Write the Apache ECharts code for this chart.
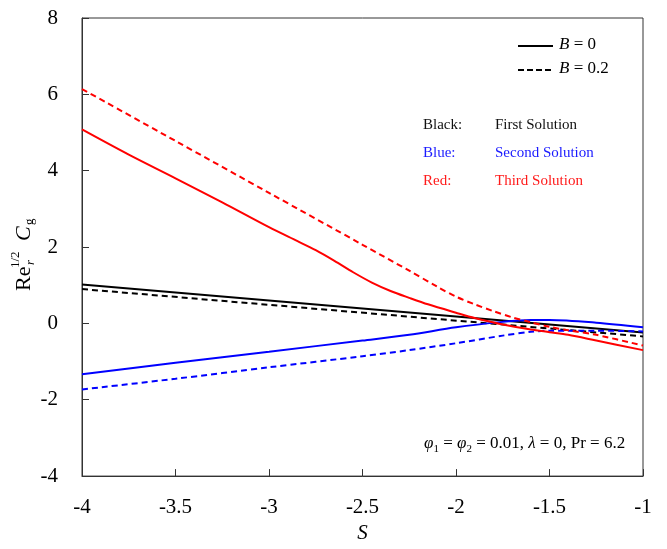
<!DOCTYPE html>
<html>
<head>
<meta charset="utf-8">
<script src="https://cdn.jsdelivr.net/npm/echarts@6/dist/echarts.min.js"></script>
<style>
  html, body { margin: 0; padding: 0; background: #fff; }
  #main { width: 667px; height: 549px; }
</style>
</head>
<body>
<div id="main"></div>
<script>
// values
const firstS = [-4, -1];
const firstB0 = [1.02, -0.24];
const firstB02 = [0.90, -0.34];

const secondS = [-4, -3.5, -3, -2.5, -2.25, -2, -1.75, -1.6, -1.5, -1.25, -1];
const secondB0 = [-1.33, -1.03, -0.74, -0.45, -0.30, -0.10, 0.04, 0.09, 0.09, 0.02, -0.10];
const secondB02 = [-1.73, -1.45, -1.15, -0.86, -0.70, -0.52, -0.32, -0.22, -0.19, -0.19, -0.21];

const thirdS0 = [-4, -3.75, -3.5, -3.25, -3, -2.85, -2.75, -2.65, -2.55, -2.45, -2.35, -2.25, -2.15, -2, -1.9, -1.75, -1.6, -1.5, -1.4, -1.25, -1];
const thirdB0 = [5.08, 4.42, 3.80, 3.17, 2.52, 2.16, 1.92, 1.64, 1.34, 1.07, 0.85, 0.67, 0.50, 0.28, 0.14, -0.03, -0.16, -0.23, -0.30, -0.45, -0.70];
const thirdS02 = [-4, -3.5, -3, -2.5, -2.25, -2.1, -2, -1.9, -1.8, -1.7, -1.6, -1.5, -1.4, -1.25, -1];
const thirdB02 = [6.14, 4.78, 3.42, 2.06, 1.38, 0.96, 0.70, 0.50, 0.32, 0.16, 0.03, -0.09, -0.18, -0.30, -0.58];

const xTicks = [-4, -1, 0.5];   // min, max, step
const yTicks = [-4, 8, 2];

const font = '"Liberation Serif", "Times New Roman", serif';
const zip = (xs, ys) => xs.map((x, i) => [x, ys[i]]);

function line(name, xs, ys, color, dashed, smooth) {
  return {
    name: name,
    type: 'line',
    data: zip(xs, ys),
    symbol: 'none',
    smooth: smooth ? 0.3 : false,
    lineStyle: { color: color, width: 2, type: dashed ? [6, 4] : 'solid' },
    silent: true,
    animation: false,
  };
}

const myChart = echarts.init(document.getElementById('main'));

myChart.setOption({
  backgroundColor: '#fff',
  animation: false,
  grid: {
    left: 82, right: 24, top: 18, bottom: 62,
    show: true, borderColor: '#333', borderWidth: 1,
  },
  xAxis: {
    type: 'value',
    min: xTicks[0], max: xTicks[1], interval: xTicks[2],
    axisLine: { onZero: false, lineStyle: { color: '#333' } },
    axisTick: { inside: true, length: 7, lineStyle: { color: '#333' } },
    splitLine: { show: false },
    axisLabel: { color: '#000', fontFamily: font, fontSize: 21, margin: 21 },
    name: 'S',
    nameLocation: 'middle',
    nameGap: 42,
    nameTextStyle: { color: '#000', fontFamily: font, fontSize: 21, fontStyle: 'italic' },
  },
  yAxis: {
    type: 'value',
    min: yTicks[0], max: yTicks[1], interval: yTicks[2],
    axisLine: { show: true, onZero: false, lineStyle: { color: '#333' } },
    axisTick: { show: true, inside: true, length: 7, lineStyle: { color: '#333' } },
    splitLine: { show: false },
    axisLabel: { color: '#000', fontFamily: font, fontSize: 21, margin: 24 },
  },
  series: [
    line('first B0', firstS, firstB0, '#000', false, false),
    line('first B0.2', firstS, firstB02, '#000', true, false),
    line('second B0', secondS, secondB0, '#0000ff', false, true),
    line('second B0.2', secondS, secondB02, '#0000ff', true, true),
    line('third B0', thirdS0, thirdB0, '#ff0000', false, true),
    line('third B0.2', thirdS02, thirdB02, '#ff0000', true, true),
  ],
  graphic: [
    // legend
    { type: 'line', shape: { x1: 518, y1: 46, x2: 553, y2: 46 }, style: { stroke: '#000', lineWidth: 2 } },
    { type: 'line', shape: { x1: 518, y1: 70, x2: 553, y2: 70 }, style: { stroke: '#000', lineWidth: 2, lineDash: [6, 3] } },
    {
      type: 'text', left: 559, top: 36,
      style: { text: '{i|B} = 0', fill: '#000', font: '17px ' + font, rich: { i: { fontStyle: 'italic', fontSize: 17, fontFamily: font } } },
    },
    {
      type: 'text', left: 559, top: 60,
      style: { text: '{i|B} = 0.2', fill: '#000', font: '17px ' + font, rich: { i: { fontStyle: 'italic', fontSize: 17, fontFamily: font } } },
    },
    // colour key
    { type: 'text', left: 423, top: 118, style: { text: 'Black:', fill: '#111', font: '15px ' + font } },
    { type: 'text', left: 495, top: 118, style: { text: 'First Solution', fill: '#111', font: '15px ' + font } },
    { type: 'text', left: 423, top: 146, style: { text: 'Blue:', fill: '#1a1aff', font: '15px ' + font } },
    { type: 'text', left: 495, top: 146, style: { text: 'Second Solution', fill: '#1a1aff', font: '15px ' + font } },
    { type: 'text', left: 423, top: 174, style: { text: 'Red:', fill: '#ff1a1a', font: '15px ' + font } },
    { type: 'text', left: 495, top: 174, style: { text: 'Third Solution', fill: '#ff1a1a', font: '15px ' + font } },
    // parameters
    {
      type: 'text', left: 424, top: 433,
      style: {
        text: '{i|φ}{s|1} = {i|φ}{s|2} = 0.01, {i|λ} = 0, Pr = 6.2',
        fill: '#000', font: '17px ' + font, lineHeight: 22,
        rich: {
          i: { fontStyle: 'italic', fontSize: 17, fontFamily: font, lineHeight: 22 },
          s: { fontSize: 11, fontFamily: font, lineHeight: 11, verticalAlign: 'bottom' },
        },
      },
    },
    // y axis title, rotated
    {
      type: 'group', x: 24, y: 253, rotation: Math.PI / 2,
      children: [
        { type: 'text', x: -38, y: 0, style: { text: 'Re', fill: '#000', font: '22px ' + font, verticalAlign: 'middle' } },
        { type: 'text', x: -15, y: -8, style: { text: '1/2', fill: '#000', font: '13px ' + font, verticalAlign: 'middle' } },
        { type: 'text', x: -12, y: 7, style: { text: 'r', fill: '#000', font: 'italic 13px ' + font, verticalAlign: 'middle' } },
        { type: 'text', x: 12, y: 0, style: { text: 'C', fill: '#000', font: 'italic 22px ' + font, verticalAlign: 'middle' } },
        { type: 'text', x: 28, y: 6, style: { text: 'g', fill: '#000', font: '13px ' + font, verticalAlign: 'middle' } },
      ],
    },
  ],
});
</script>
</body>
</html>
